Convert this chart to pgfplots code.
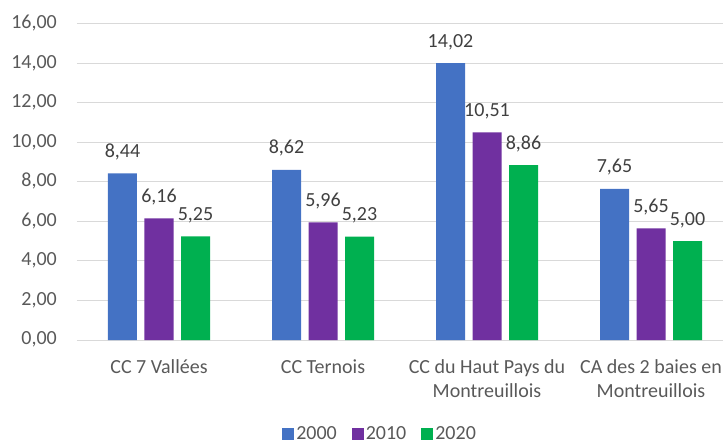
\documentclass[border=0pt]{standalone}
\usepackage{fontspec}
\setmainfont{Carlito}
\usepackage{pgfplots}
\pgfplotsset{compat=1.18}
\definecolor{c2000}{HTML}{4472C4}
\definecolor{c2010}{HTML}{7030A0}
\definecolor{c2020}{HTML}{00B050}
\definecolor{gridc}{HTML}{D9D9D9}
\definecolor{txt}{HTML}{595959}
\definecolor{lbl}{HTML}{404040}
\begin{document}
\begin{tikzpicture}
\begin{axis}[
  at={(0,0)}, anchor=south west,
  scale only axis, width=656bp, height=316bp,
  font=\fontsize{20bp}{24bp}\selectfont,
  ybar=7.5bp, bar width=29bp,
  xmin=-0.5, xmax=3.5, ymin=0, ymax=16,
  ytick={0,2,...,16},
  xtick={0,1,2,3},
  xticklabels={CC 7 Vallées, CC Ternois, {CC du Haut Pays du\\Montreuillois}, {CA des 2 baies en\\Montreuillois}},
  typeset ticklabels with strut,
  xticklabel style={align=center, anchor=north, inner sep=0pt, yshift=-16bp, text=txt},
  yticklabel style={anchor=east, inner sep=0pt, xshift=-20bp, text=txt},
  major tick length=0pt,
  axis line style={draw=none},
  ymajorgrids, grid style={gridc, line width=1bp},
  /pgf/number format/.cd, fixed, fixed zerofill, precision=2, use comma, 1000 sep={}, assume math mode=true,
  /pgfplots/.cd,
  nodes near coords,
  every node near coord/.append style={anchor=base, yshift=16bp, inner sep=0pt, text=lbl},
  legend columns=3,
  legend style={at={(axis description cs:0.462,-0.296)}, anchor=center, draw=none, fill=none,
    /tikz/every even column/.append style={column sep=13bp},
    nodes={inner sep=2bp, text=txt}},
  legend image code/.code={\path[#1,draw=none] (0bp,-6bp) rectangle (12bp,6bp);},
]
\addplot[fill=c2000, draw=none] coordinates {(0,8.44) (1,8.62) (2,14.02) (3,7.65)};
\addplot[fill=c2010, draw=none] coordinates {(0,6.16) (1,5.96) (2,10.51) (3,5.65)};
\addplot[fill=c2020, draw=none] coordinates {(0,5.25) (1,5.23) (2,8.86) (3,5.00)};
\legend{2000,2010,2020}
\end{axis}
\pgfresetboundingbox
\path[use as bounding box] (-77bp,-103bp) rectangle (646bp,340bp);
\end{tikzpicture}
\end{document}
